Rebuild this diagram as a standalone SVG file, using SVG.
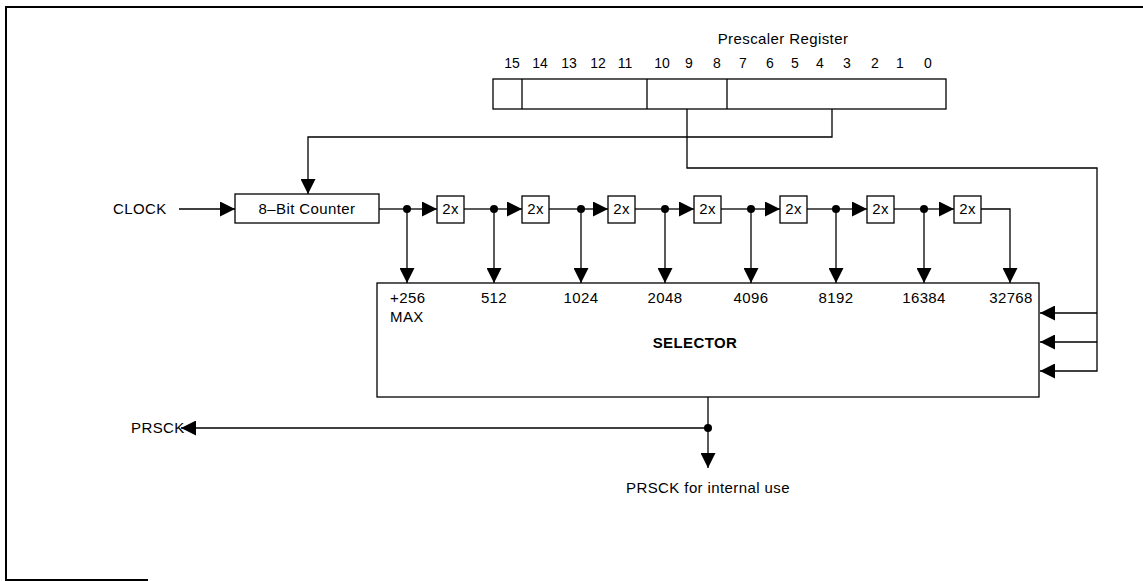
<svg xmlns="http://www.w3.org/2000/svg" width="1143" height="581" viewBox="0 0 1143 581">
<style>
.t{font-family:"Liberation Sans",Arial,sans-serif;font-size:15px;letter-spacing:0.4px;fill:#000}
.d{font-family:"Liberation Sans",Arial,sans-serif;font-size:14px;fill:#000;text-anchor:middle}
.m{text-anchor:middle}
.b{font-weight:bold}
.box{fill:#fff;stroke:#000;stroke-width:1.3}
.c{fill:none;stroke:#000;stroke-width:1.3}
.ca{fill:none;stroke:#000;stroke-width:1.3;marker-end:url(#ah)}
.dot{fill:#000}
</style>
<defs>
<marker id="ah" markerUnits="userSpaceOnUse" markerWidth="15" markerHeight="15" viewBox="0 0 15 15" refX="15" refY="7.5" orient="auto">
<path d="M0,0 L15,7.5 L0,15 z" fill="#000"/>
</marker>
</defs>
<path d="M1143,7 H6 V580 H148" fill="none" stroke="#000" stroke-width="2"/>
<g id="prescaler-register">
<text class="t m" x="783" y="44">Prescaler Register</text>
<text class="d" x="512" y="68">15</text>
<text class="d" x="540" y="68">14</text>
<text class="d" x="569" y="68">13</text>
<text class="d" x="598" y="68">12</text>
<text class="d" x="625" y="68">11</text>
<text class="d" x="662" y="68">10</text>
<text class="d" x="689" y="68">9</text>
<text class="d" x="717" y="68">8</text>
<text class="d" x="743" y="68">7</text>
<text class="d" x="770" y="68">6</text>
<text class="d" x="795" y="68">5</text>
<text class="d" x="820" y="68">4</text>
<text class="d" x="847" y="68">3</text>
<text class="d" x="875" y="68">2</text>
<text class="d" x="900" y="68">1</text>
<text class="d" x="928" y="68">0</text>
<rect class="box" x="493" y="79" width="453" height="30"/>
<line class="c" x1="522" y1="79" x2="522" y2="109"/>
<line class="c" x1="647" y1="79" x2="647" y2="109"/>
<line class="c" x1="727" y1="79" x2="727" y2="109"/>
</g>
<g id="clock"><text class="t" x="113" y="214">CLOCK</text></g>
<g id="counter">
<rect class="box" x="235" y="194" width="144" height="29"/>
<text class="t m" x="307" y="214">8–Bit Counter</text>
</g>
<g id="doublers">
<g id="x2-1"><rect class="box" x="437" y="196" width="27" height="27"/><text class="t m" x="450.5" y="214">2x</text></g>
<g id="x2-2"><rect class="box" x="522" y="196" width="27" height="27"/><text class="t m" x="535.5" y="214">2x</text></g>
<g id="x2-3"><rect class="box" x="608" y="196" width="27" height="27"/><text class="t m" x="621.5" y="214">2x</text></g>
<g id="x2-4"><rect class="box" x="694" y="196" width="27" height="27"/><text class="t m" x="707.5" y="214">2x</text></g>
<g id="x2-5"><rect class="box" x="780" y="196" width="27" height="27"/><text class="t m" x="793.5" y="214">2x</text></g>
<g id="x2-6"><rect class="box" x="867" y="196" width="27" height="27"/><text class="t m" x="880.5" y="214">2x</text></g>
<g id="x2-7"><rect class="box" x="954" y="196" width="27" height="27"/><text class="t m" x="967.5" y="214">2x</text></g>
</g>
<g id="selector">
<rect class="box" x="377" y="283" width="662" height="114"/>
<text class="t" x="390" y="303">+256</text>
<text class="t" x="390" y="322">MAX</text>
<text class="t m" x="494" y="303">512</text>
<text class="t m" x="581" y="303">1024</text>
<text class="t m" x="665" y="303">2048</text>
<text class="t m" x="751" y="303">4096</text>
<text class="t m" x="836" y="303">8192</text>
<text class="t m" x="924" y="303">16384</text>
<text class="t m" x="1011" y="303">32768</text>
<text class="t m b" x="695" y="348">SELECTOR</text>
</g>
<g id="prsck"><text class="t" x="131" y="433">PRSCK</text></g>
<g id="prsck-internal"><text class="t m" x="708" y="493">PRSCK for internal use</text></g>
<g id="connectors">
<line class="ca" x1="179" y1="209" x2="235" y2="209"/>
<polyline class="ca" points="832,109 832,137 308,137 308,194"/>
<polyline class="ca" points="687,109 687,168 1097,168 1097,371 1040,371"/>
<line class="ca" x1="1097" y1="313" x2="1040" y2="313"/>
<line class="ca" x1="1097" y1="342" x2="1040" y2="342"/>
<line class="c" x1="379" y1="209" x2="407" y2="209"/>
<line class="ca" x1="407" y1="209" x2="437" y2="209"/>
<line class="c" x1="464" y1="209" x2="494" y2="209"/>
<line class="ca" x1="494" y1="209" x2="522" y2="209"/>
<line class="c" x1="549" y1="209" x2="581" y2="209"/>
<line class="ca" x1="581" y1="209" x2="608" y2="209"/>
<line class="c" x1="635" y1="209" x2="665" y2="209"/>
<line class="ca" x1="665" y1="209" x2="694" y2="209"/>
<line class="c" x1="721" y1="209" x2="751" y2="209"/>
<line class="ca" x1="751" y1="209" x2="780" y2="209"/>
<line class="c" x1="807" y1="209" x2="836" y2="209"/>
<line class="ca" x1="836" y1="209" x2="867" y2="209"/>
<line class="c" x1="894" y1="209" x2="924" y2="209"/>
<line class="ca" x1="924" y1="209" x2="954" y2="209"/>
<polyline class="ca" points="981,209 1010,209 1010,283"/>
<line class="ca" x1="407" y1="209" x2="407" y2="283"/>
<line class="ca" x1="494" y1="209" x2="494" y2="283"/>
<line class="ca" x1="581" y1="209" x2="581" y2="283"/>
<line class="ca" x1="665" y1="209" x2="665" y2="283"/>
<line class="ca" x1="751" y1="209" x2="751" y2="283"/>
<line class="ca" x1="836" y1="209" x2="836" y2="283"/>
<line class="ca" x1="924" y1="209" x2="924" y2="283"/>
<circle class="dot" cx="407" cy="209" r="4"/>
<circle class="dot" cx="494" cy="209" r="4"/>
<circle class="dot" cx="581" cy="209" r="4"/>
<circle class="dot" cx="665" cy="209" r="4"/>
<circle class="dot" cx="751" cy="209" r="4"/>
<circle class="dot" cx="836" cy="209" r="4"/>
<circle class="dot" cx="924" cy="209" r="4"/>
<line class="ca" x1="708" y1="397" x2="708" y2="468"/>
<line class="ca" x1="708" y1="428" x2="181" y2="428"/>
<circle class="dot" cx="708" cy="428" r="4"/>
</g>
</svg>
